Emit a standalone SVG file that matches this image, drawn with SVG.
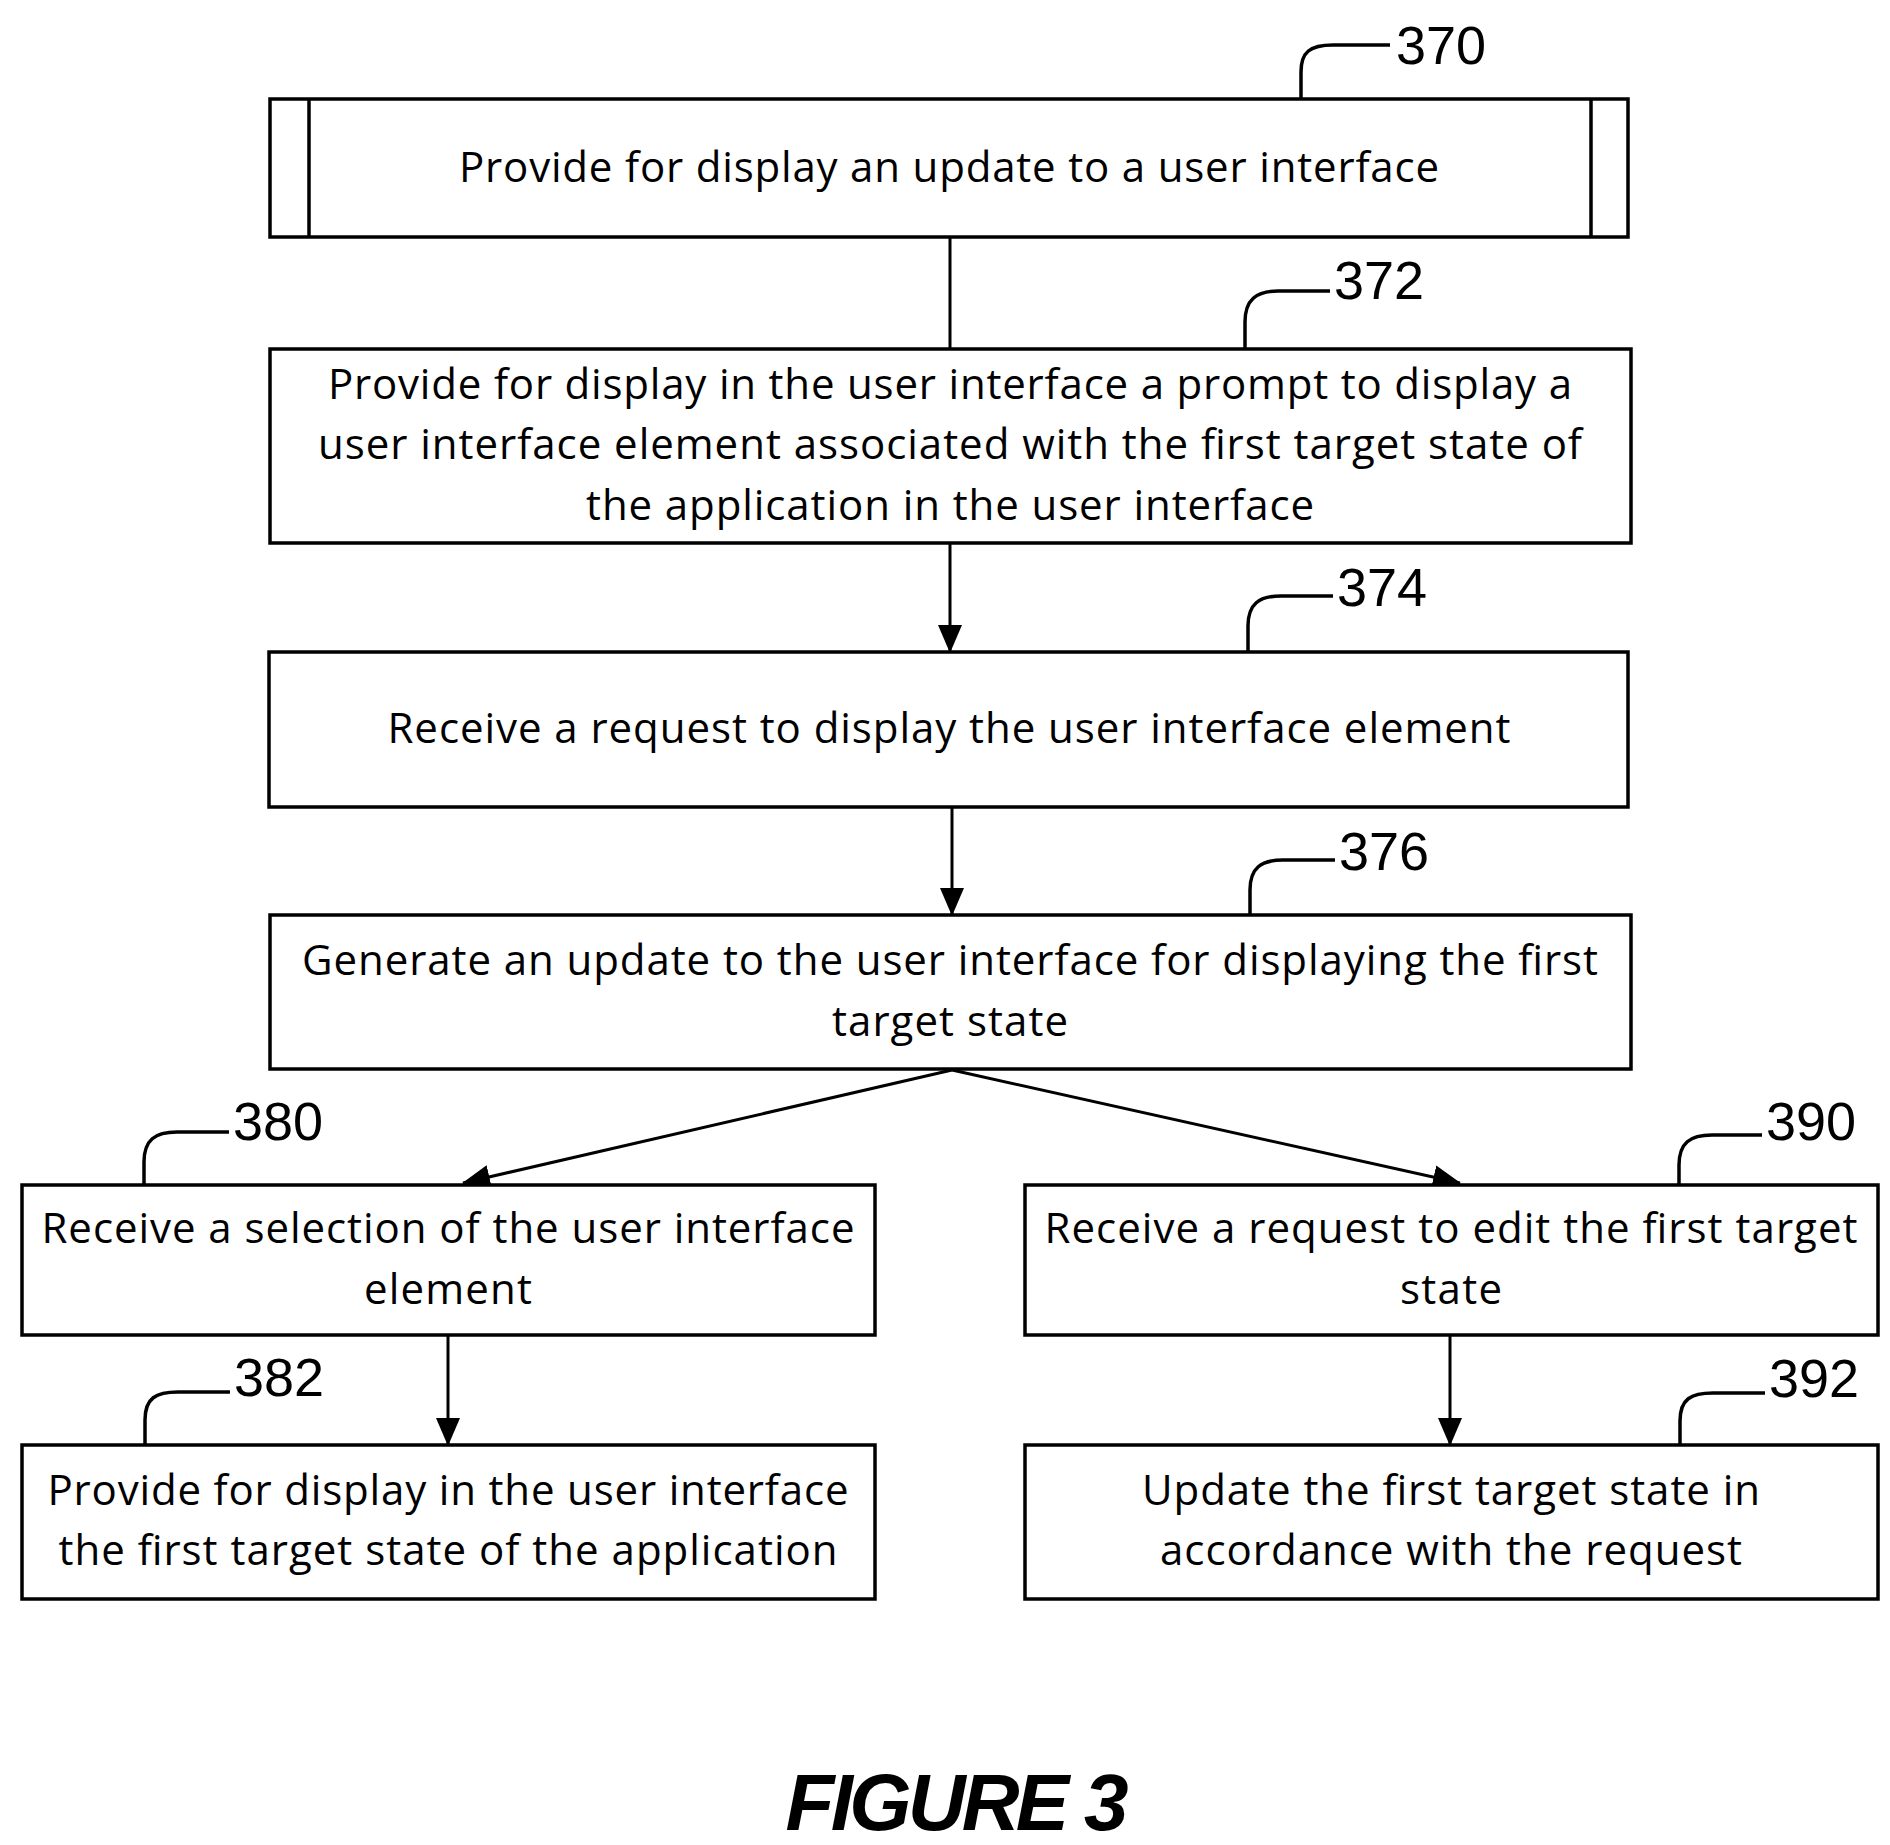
<svg xmlns="http://www.w3.org/2000/svg" width="1890" height="1845" viewBox="0 0 1890 1845">
<style>
.b{fill:#fff;stroke:#000;stroke-width:3.5}
.t{font-family:"Open Sans","Liberation Sans",sans-serif;font-size:42px;text-anchor:middle;fill:#000}
.n{font-family:"Liberation Sans",sans-serif;font-size:54px;fill:#000}
.l{fill:none;stroke:#000;stroke-width:3.5}
.c{fill:none;stroke:#000;stroke-width:3}
</style>
<defs><marker id="a" markerWidth="10" markerHeight="10" refX="9" refY="5" orient="auto" markerUnits="userSpaceOnUse" viewBox="0 0 10 10" ><path d="M0,0L10,5L0,10z"/></marker>
<marker id="ah" viewBox="0 0 28 28" refX="27" refY="14" markerWidth="28" markerHeight="28" markerUnits="userSpaceOnUse" orient="auto"><path d="M0,2L28,14L0,26z" fill="#000"/></marker></defs>
<rect width="1890" height="1845" fill="#fff"/>
<g id="connectors">
<path class="c" d="M950,237V349"/>
<path class="c" d="M950,543V652" marker-end="url(#ah)"/>
<path class="c" d="M952,807V915" marker-end="url(#ah)"/>
<path class="c" d="M952,1070L463,1183" marker-end="url(#ah)"/>
<path class="c" d="M952,1070L1460,1183" marker-end="url(#ah)"/>
<path class="c" d="M448,1335V1445" marker-end="url(#ah)"/>
<path class="c" d="M1450,1335V1445" marker-end="url(#ah)"/>
</g>
<g id="n370"><rect class="b" x="270" y="99" width="1358" height="138"/><path class="l" d="M309,99V237M1591,99V237"/>
<text class="t" x="949" y="182" textLength="980">Provide for display an update to a user interface</text>
<path class="l" d="M1301,99V72C1301,52 1310,45 1333,45H1390"/><text class="n" x="1396" y="64">370</text></g>
<g id="n372"><rect class="b" x="270" y="349" width="1361" height="194"/>
<text class="t" x="950" y="399" textLength="1244">Provide for display in the user interface a prompt to display a</text>
<text class="t" x="950" y="459" textLength="1264">user interface element associated with the first target state of</text>
<text class="t" x="950" y="520" textLength="728">the application in the user interface</text>
<path class="l" d="M1245,349V322C1245,300 1256,291 1278,291H1330"/><text class="n" x="1334" y="299">372</text></g>
<g id="n374"><rect class="b" x="269" y="652" width="1359" height="155"/>
<text class="t" x="949" y="743" textLength="1123">Receive a request to display the user interface element</text>
<path class="l" d="M1248,652V626C1248,604 1259,596 1281,596H1333"/><text class="n" x="1337" y="606">374</text></g>
<g id="n376"><rect class="b" x="270" y="915" width="1361" height="154"/>
<text class="t" x="950" y="975" textLength="1296">Generate an update to the user interface for displaying the first</text>
<text class="t" x="950" y="1036" textLength="236">target state</text>
<path class="l" d="M1250,915V890C1250,868 1261,860 1283,860H1335"/><text class="n" x="1339" y="870">376</text></g>
<g id="n380"><rect class="b" x="22" y="1185" width="853" height="150"/>
<text class="t" x="448" y="1243" textLength="813">Receive a selection of the user interface</text>
<text class="t" x="448" y="1304" textLength="168">element</text>
<path class="l" d="M144,1185V1162C144,1140 155,1132 177,1132H229"/><text class="n" x="233" y="1140">380</text></g>
<g id="n390"><rect class="b" x="1025" y="1185" width="853" height="150"/>
<text class="t" x="1451" y="1243" textLength="813">Receive a request to edit the first target</text>
<text class="t" x="1451" y="1304" textLength="102">state</text>
<path class="l" d="M1679,1185V1165C1679,1143 1690,1135 1712,1135H1762"/><text class="n" x="1766" y="1140">390</text></g>
<g id="n382"><rect class="b" x="22" y="1445" width="853" height="154"/>
<text class="t" x="448" y="1505" textLength="801">Provide for display in the user interface</text>
<text class="t" x="448" y="1565" textLength="779">the first target state of the application</text>
<path class="l" d="M145,1445V1420C145,1398 156,1392 178,1392H230"/><text class="n" x="234" y="1396">382</text></g>
<g id="n392"><rect class="b" x="1025" y="1445" width="853" height="154"/>
<text class="t" x="1451" y="1505" textLength="618">Update the first target state in</text>
<text class="t" x="1451" y="1565" textLength="582">accordance with the request</text>
<path class="l" d="M1680,1445V1421C1680,1399 1691,1393 1713,1393H1765"/><text class="n" x="1769" y="1397">392</text></g>
<text x="957" y="1830" text-anchor="middle" font-family="Liberation Sans,sans-serif" font-weight="bold" font-style="italic" font-size="80" textLength="343">FIGURE 3</text>
</svg>
